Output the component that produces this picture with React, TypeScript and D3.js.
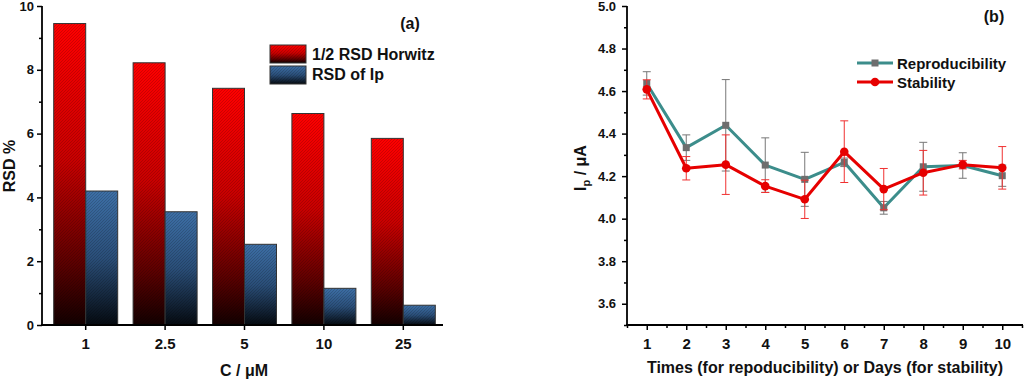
import React, { useEffect, useRef } from "react";
import * as d3 from "d3";

// ---- Data: panel (a) ----
const categories = ["1", "2.5", "5", "10", "25"];
const horwitz = [9.45, 8.22, 7.42, 6.63, 5.85];
const rsdIp = [4.2, 3.55, 2.53, 1.15, 0.62];
const yTicksA = [0, 2, 4, 6, 8, 10];
const yMinorA = [1, 3, 5, 7, 9];

// ---- Data: panel (b) ----
const runs = [1, 2, 3, 4, 5, 6, 7, 8, 9, 10];
const repro = [4.636, 4.334, 4.439, 4.252, 4.185, 4.265, 4.051, 4.244, 4.25, 4.202];
const reproErr = [0.055, 0.06, 0.215, 0.128, 0.127, 0.02, 0.03, 0.115, 0.06, 0.05];
const stab = [4.608, 4.237, 4.254, 4.153, 4.091, 4.315, 4.139, 4.216, 4.254, 4.239];
const stabErr = [0.045, 0.055, 0.14, 0.03, 0.09, 0.145, 0.097, 0.105, 0.02, 0.1];
const yTicksB = [3.6, 3.8, 4.0, 4.2, 4.4, 4.6, 4.8, 5.0];
const yMinorB = [3.5, 3.7, 3.9, 4.1, 4.3, 4.5, 4.7, 4.9];
const xMinorB = [0.5, 1.5, 2.5, 3.5, 4.5, 5.5, 6.5, 7.5, 8.5, 9.5, 10.5];

const FONT = "'Liberation Sans', Arial, sans-serif";
const TEAL = "#3c8d8b";
const RED = "#e60000";

const W = 1024;
const H = 380;

// panel a geometry
const aLeft = 42, aRight = 443, top = 6, bottom = 325;
// panel b geometry
const bLeft = 627, bRight = 1023;

const yA = d3.scaleLinear().domain([0, 10]).range([bottom, top]);
const xA = d3.scaleBand<string>().domain(categories).range([46, 443]).padding(0);
const yB = d3.scaleLinear().domain([3.5, 5.0]).range([bottom, top]);
const xB = d3.scaleLinear().domain([0.5, 10.5]).range([bLeft, 1022]);

function styleAxis(g: d3.Selection<SVGGElement, unknown, null, undefined>, size: number) {
  g.select(".domain").remove();
  g.selectAll(".tick line").attr("stroke", "#000").attr("stroke-width", 1.5);
  g.selectAll(".tick text")
    .attr("fill", "#111")
    .style("font-family", FONT)
    .style("font-weight", "bold")
    .style("font-size", size + "px");
}

export default function App() {
  const axRef = useRef<SVGGElement>(null);

  useEffect(() => {
    const root = d3.select(axRef.current as SVGGElement);
    root.selectAll("*").remove();

    // Panel a axes
    const ayMaj = root.append("g").attr("transform", `translate(${aLeft},0)`);
    ayMaj.call(d3.axisLeft(yA).tickValues(yTicksA).tickSize(5).tickPadding(3).tickFormat(d3.format("d")) as any);
    styleAxis(ayMaj, 13);
    const ayMin = root.append("g").attr("transform", `translate(${aLeft},0)`);
    ayMin.call(d3.axisLeft(yA).tickValues(yMinorA).tickSize(3).tickFormat(() => "") as any);
    styleAxis(ayMin, 13);
    const axA = root.append("g").attr("transform", `translate(0,${bottom})`);
    axA.call(d3.axisBottom(xA).tickSize(5).tickPadding(8) as any);
    styleAxis(axA, 15);

    // Panel b axes
    const byMaj = root.append("g").attr("transform", `translate(${bLeft},0)`);
    byMaj.call(d3.axisLeft(yB).tickValues(yTicksB).tickSize(5).tickPadding(6).tickFormat(d3.format(".1f")) as any);
    styleAxis(byMaj, 13);
    const byMin = root.append("g").attr("transform", `translate(${bLeft},0)`);
    byMin.call(d3.axisLeft(yB).tickValues(yMinorB).tickSize(3).tickFormat(() => "") as any);
    styleAxis(byMin, 13);
    const bxMaj = root.append("g").attr("transform", `translate(0,${bottom})`);
    bxMaj.call(d3.axisBottom(xB).tickValues(runs).tickSize(5).tickPadding(8).tickFormat(d3.format("d")) as any);
    styleAxis(bxMaj, 15);
    const bxMin = root.append("g").attr("transform", `translate(0,${bottom})`);
    bxMin.call(d3.axisBottom(xB).tickValues(xMinorB).tickSize(3).tickFormat(() => "") as any);
    styleAxis(bxMin, 15);

    // Axis lines
    const lines = [
      [aLeft, top, aLeft, bottom],
      [aLeft - 1, bottom, aRight, bottom],
      [bLeft, top, bLeft, bottom],
      [bLeft - 1, bottom, bRight, bottom],
    ];
    lines.forEach(([x1, y1, x2, y2]) =>
      root.append("line").attr("x1", x1).attr("y1", y1).attr("x2", x2).attr("y2", y2)
        .attr("stroke", "#000").attr("stroke-width", 1.8)
    );
  }, []);

  const bw = xA.bandwidth() * 0.403;
  const line = d3.line<number>().x((_, i) => xB(runs[i])).y((d) => yB(d));

  const textStyle = { fontFamily: FONT, fontWeight: "bold" as const, fill: "#111" };

  return (
    <div style={{ position: "absolute", left: 0, top: 0 }}>
      <svg width={W} height={H} viewBox={`0 0 ${W} ${H}`} style={{ display: "block", background: "#fff" }}>
        <defs>
          <linearGradient id="gRed" x1="0" y1="0" x2="0" y2="1">
            <stop offset="0" stopColor="#ff0000" />
            <stop offset="0.45" stopColor="#c80000" />
            <stop offset="0.8" stopColor="#5a0000" />
            <stop offset="1" stopColor="#120000" />
          </linearGradient>
          <linearGradient id="gBlue" x1="0" y1="0" x2="0" y2="1">
            <stop offset="0" stopColor="#3d6fa6" />
            <stop offset="0.5" stopColor="#2a4e78" />
            <stop offset="1" stopColor="#050a10" />
          </linearGradient>
          <pattern id="hatch" patternUnits="userSpaceOnUse" width="3" height="3">
            <path d="M-1,1 l2,-2 M0,3 l3,-3 M2,4 l2,-2" stroke="rgba(0,0,0,0.22)" strokeWidth="0.7" />
          </pattern>
        </defs>

        {/* Panel (a) bars */}
        {categories.map((c, i) => {
          const cx = (xA(c) as number) + xA.bandwidth() / 2;
          const yr = yA(horwitz[i]);
          const yb = yA(rsdIp[i]);
          return (
            <g key={c}>
              <rect x={cx - bw} y={yr} width={bw} height={bottom - yr} fill="url(#gRed)" />
              <rect x={cx - bw} y={yr} width={bw} height={bottom - yr} fill="url(#hatch)" stroke="#333" strokeWidth={1} />
              <rect x={cx} y={yb} width={bw} height={bottom - yb} fill="url(#gBlue)" />
              <rect x={cx} y={yb} width={bw} height={bottom - yb} fill="url(#hatch)" stroke="#333" strokeWidth={1} />
            </g>
          );
        })}

        {/* Panel (a) legend */}
        <rect x={270} y={45} width={36} height={18} fill="url(#gRed)" />
        <rect x={270} y={45} width={36} height={18} fill="url(#hatch)" stroke="#333" strokeWidth={1} />
        <rect x={270} y={66} width={36} height={18} fill="url(#gBlue)" />
        <rect x={270} y={66} width={36} height={18} fill="url(#hatch)" stroke="#333" strokeWidth={1} />
        <text x={312} y={60} fontSize={16} style={textStyle}>1/2 RSD Horwitz</text>
        <text x={312} y={80} fontSize={16} style={textStyle}>RSD of Ip</text>
        <text x={410} y={29} fontSize={16} textAnchor="middle" style={textStyle}>(a)</text>

        {/* Panel (a) titles */}
        <text transform={`translate(15,166) rotate(-90)`} fontSize={16} textAnchor="middle" style={textStyle}>RSD %</text>
        <text x={244} y={376} fontSize={16} textAnchor="middle" style={textStyle}>C / μM</text>

        {/* Panel (b) reproducibility */}
        <g>
          {runs.map((r, i) => {
            const x = xB(r);
            const y1 = yB(repro[i] + reproErr[i]);
            const y2 = yB(repro[i] - reproErr[i]);
            return (
              <g key={"re" + r} stroke="#777" strokeWidth={1}>
                <line x1={x} x2={x} y1={y1} y2={y2} />
                <line x1={x - 4} x2={x + 4} y1={y1} y2={y1} />
                <line x1={x - 4} x2={x + 4} y1={y2} y2={y2} />
              </g>
            );
          })}
          <path d={line(repro) as string} fill="none" stroke={TEAL} strokeWidth={3} strokeLinejoin="round" />
          {runs.map((r, i) => (
            <rect key={"rm" + r} x={xB(r) - 3.5} y={yB(repro[i]) - 3.5} width={7} height={7} fill="#6e6e6e" />
          ))}
        </g>

        {/* Panel (b) stability */}
        <g>
          {runs.map((r, i) => {
            const x = xB(r);
            const y1 = yB(stab[i] + stabErr[i]);
            const y2 = yB(stab[i] - stabErr[i]);
            return (
              <g key={"se" + r} stroke="#f03030" strokeWidth={1}>
                <line x1={x} x2={x} y1={y1} y2={y2} />
                <line x1={x - 4} x2={x + 4} y1={y1} y2={y1} />
                <line x1={x - 4} x2={x + 4} y1={y2} y2={y2} />
              </g>
            );
          })}
          <path d={line(stab) as string} fill="none" stroke={RED} strokeWidth={3} strokeLinejoin="round" />
          {runs.map((r, i) => (
            <circle key={"sm" + r} cx={xB(r)} cy={yB(stab[i])} r={4.3} fill={RED} />
          ))}
        </g>

        {/* Panel (b) legend */}
        <line x1={857} x2={893} y1={63} y2={63} stroke={TEAL} strokeWidth={3} />
        <rect x={871.5} y={59.5} width={7} height={7} fill="#6e6e6e" />
        <line x1={857} x2={893} y1={82} y2={82} stroke={RED} strokeWidth={3} />
        <circle cx={875} cy={82} r={4.3} fill={RED} />
        <text x={897} y={69} fontSize={15} style={textStyle}>Reproducibility</text>
        <text x={897} y={88} fontSize={15} style={textStyle}>Stability</text>
        <text x={994} y={22} fontSize={16} textAnchor="middle" style={textStyle}>(b)</text>

        {/* Panel (b) titles */}
        <text transform={`translate(586,168) rotate(-90)`} fontSize={16} textAnchor="middle" style={textStyle}>
          I<tspan fontSize={11} dy={4}>p</tspan><tspan dy={-4}> / μA</tspan>
        </text>
        <text x={825} y={373} fontSize={16} textAnchor="middle" style={textStyle}>
          Times (for repoducibility) or Days (for stability)
        </text>

        <g ref={axRef} />
      </svg>
    </div>
  );
}
